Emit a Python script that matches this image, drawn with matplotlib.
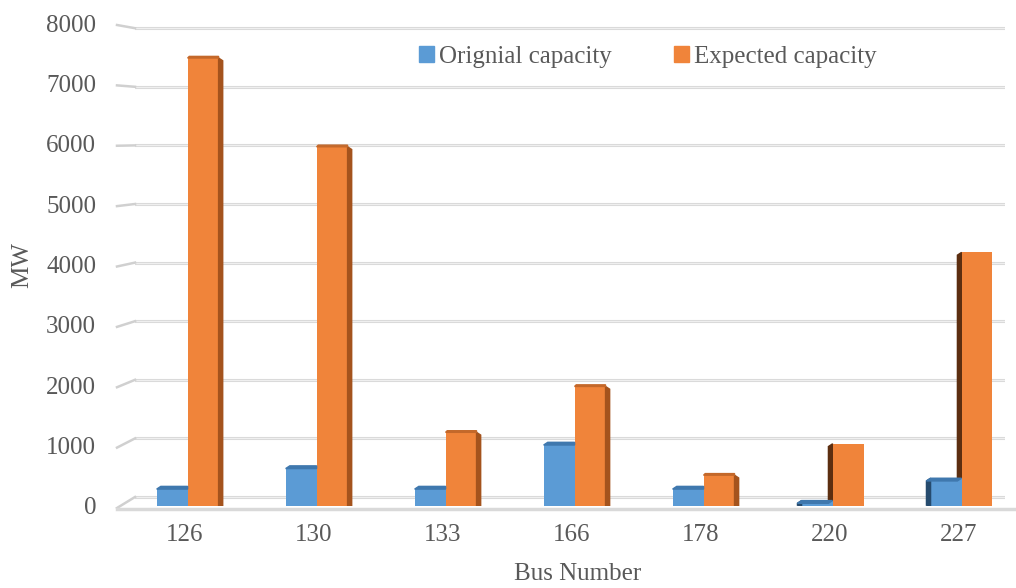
import matplotlib.pyplot as plt
from matplotlib.patches import Polygon, Patch
from matplotlib.lines import Line2D
import numpy as np

# data
buses = ['126', '130', '133', '166', '178', '220', '227']
original = [280, 620, 280, 1010, 280, 90, 460]
expected = [7420, 5950, 1220, 1980, 510, 1030, 4200]
yticks = [0, 1000, 2000, 3000, 4000, 5000, 6000, 7000, 8000]

blue = '#5B9BD5'
orange = '#F0843A'
txt = '#595959'

plt.rcParams['font.family'] = ['Liberation Serif', 'DejaVu Serif']

W, H = 1016, 588
fig = plt.figure(figsize=(W / 100, H / 100), dpi=100)
# front plane: 0 at y=506px, 8000 at y=23px
ax = fig.add_axes([135 / W, 1 - 506 / H, 870 / W, 483 / H])
ax.set_xlim(-0.388, 6.357)
ax.set_ylim(0, 8000)

x = np.arange(len(buses))
w = 0.24
ax.bar(x - w / 2 + 0.02, original, w, color=blue, zorder=3)
ax.bar(x + w / 2 + 0.02, expected, w, color=orange, zorder=3)

# fake 3d faces
d = 0.032
dy = 45
for i in x:
    bx = i + 0.02
    if i < 5:
        x1 = bx + w
        ax.add_patch(Polygon([(x1, 0), (x1, expected[i]), (x1 + d, expected[i] - dy), (x1 + d, 0)],
                             closed=True, color='#A4531D', zorder=3))
        ax.add_patch(Polygon([(bx - w, original[i]), (bx - w + d, original[i] + dy),
                              (bx, original[i] + dy), (bx, original[i])],
                             closed=True, color='#3F78AE', zorder=3))
        ax.add_patch(Polygon([(bx, expected[i]), (bx + d * 0.4, expected[i] + dy * 0.6),
                              (x1, expected[i] + dy * 0.6), (x1, expected[i])],
                             closed=True, color='#C4682A', zorder=3))
    else:
        ax.add_patch(Polygon([(bx - d, dy * 0.3), (bx - d, expected[i] - dy), (bx, expected[i]), (bx, 0)],
                             closed=True, color='#5C2E10', zorder=2.9))
        x0 = bx - w
        ax.add_patch(Polygon([(x0 - d, dy * 0.3), (x0 - d, original[i] - dy), (x0, original[i]), (x0, 0)],
                             closed=True, color='#264B6E', zorder=3))
        ax.add_patch(Polygon([(x0 - d, original[i] - dy), (bx - d, original[i] - dy),
                              (bx, original[i]), (x0, original[i])],
                             closed=True, color='#3F78AE', zorder=3))

ax.set_xticks(x)
ax.set_xticklabels(buses)
ax.set_yticks(yticks)
ax.tick_params(axis='both', length=0, labelsize=18, labelcolor=txt)
ax.tick_params(axis='y', pad=28)
ax.tick_params(axis='x', pad=13)
for s in ax.spines.values():
    s.set_visible(False)

# back wall gridlines sit a bit higher than the front plane
px = 483 / 8000  # pixels per MW on front plane
for v in yticks:
    back_px = 497 - 0.0586 * v
    gy = (506 - back_px) / px
    ax.axhline(gy, color='#D9D9D9', lw=2.2, zorder=1)
    ax.axhline(gy, color='#EFEFEF', lw=0.8, zorder=1)
    ax.add_line(Line2D([-18 / 870, 0], [v / 8000 - 2 / 483, gy / 8000],
                       transform=ax.transAxes, color='#D0D0D0', lw=1.8, clip_on=False))

# floor front edge
ax.add_line(Line2D([-18 / 870, 1.013], [-3 / 483, -3 / 483], transform=ax.transAxes,
                   color='#D9D9D9', lw=2.5, clip_on=False))

fig.text(578 / W, 1 - 574 / H, 'Bus Number', fontsize=18, color=txt, ha='center', va='center')
fig.text(22 / W, 1 - 265 / H, 'MW', rotation=90, fontsize=18, color=txt,
         ha='center', va='center')

handles = [Patch(color=blue), Patch(color=orange)]
ax.legend(handles, ['Orignial capacity', 'Expected capacity'], loc='center',
          bbox_to_anchor=((648 - 135) / 870, (506 - 57) / 483), ncol=2, frameon=False,
          fontsize=18, handlelength=0.6, handleheight=0.6, handletextpad=0.2,
          columnspacing=2.5, labelcolor=txt)

fig.savefig('out.png', dpi=100)
